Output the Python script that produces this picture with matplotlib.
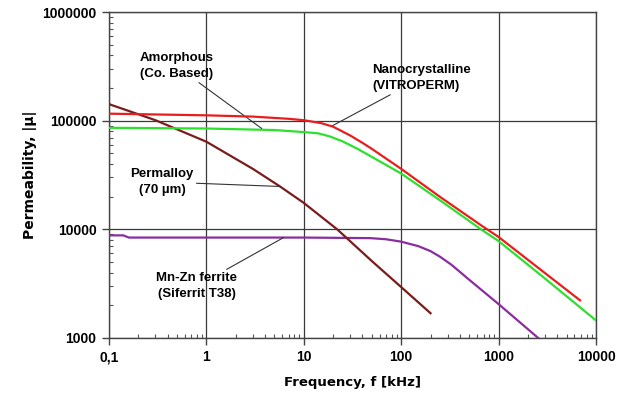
import numpy as np
import matplotlib
matplotlib.use("Agg")
import matplotlib.pyplot as plt
from matplotlib.ticker import FixedLocator, LogLocator, NullFormatter

plt.rcParams['font.family'] = ['Liberation Sans', 'DejaVu Sans']
plt.rcParams['font.weight'] = 'bold'

# frequency in kHz, permeability
nano_f = [0.1, 1, 3, 7, 10, 15, 20, 30, 40, 50, 100, 250, 670, 1000, 3000,
          6860]
nano_mu = [116000, 112000, 109000, 104000, 101000, 95000, 88000, 73000, 62500,
           55000, 36000, 19900, 10800, 8500, 3950, 2220]

amor_f = [0.1, 1, 5, 10, 14, 18.6, 25, 35, 50, 100, 250, 670, 1000, 3000,
          10000]
amor_mu = [86000, 84700, 82000, 78500, 76500, 71500, 64500, 55500, 46400,
           32600, 18500, 9900, 7800, 3520, 1450]

perm_f = [0.1, 0.3, 1, 3, 5.7, 10, 22, 50, 100, 200]
perm_mu = [142000, 101000, 64000, 36000, 24800, 17500, 10000, 5100, 2940,
           1690]

ferr_f = [0.1, 0.14, 0.16, 1, 10, 48, 70, 100, 150, 200, 250, 330, 500, 1000,
          2550]
ferr_mu = [8800, 8800, 8400, 8400, 8400, 8300, 8100, 7700, 7000, 6300, 5600,
           4700, 3430, 2050, 1000]

x_ticks = [0.1, 1, 10, 100, 1000, 10000]
x_labels = ['0,1', '1', '10', '100', '1000', '10000']
y_ticks = [1000, 10000, 100000, 1000000]
y_labels = ['1000', '10000', '100000', '1000000']


def main():
    fig = plt.figure(figsize=(6.25, 3.98), dpi=100)
    ax = fig.add_axes([0.1744, 0.1508, 0.7792, 0.819])

    ax.plot(ferr_f, ferr_mu, color='#8a2d9e', lw=1.6, zorder=3)
    ax.plot(perm_f, perm_mu, color='#7a1c1c', lw=1.6, zorder=3)
    ax.plot(amor_f, amor_mu, color='#2ee02e', lw=1.6, zorder=3)
    ax.plot(nano_f, nano_mu, color='#e81e1e', lw=1.6, zorder=4)

    ax.set_xscale('log')
    ax.set_yscale('log')
    ax.set_xlim(0.1, 10000)
    ax.set_ylim(1000, 1000000)

    ax.xaxis.set_major_locator(FixedLocator(x_ticks))
    ax.set_xticklabels(x_labels)
    ax.yaxis.set_major_locator(FixedLocator(y_ticks))
    ax.set_yticklabels(y_labels)
    ax.xaxis.set_minor_locator(LogLocator(base=10, subs=np.arange(2, 10)))
    ax.yaxis.set_minor_locator(LogLocator(base=10, subs=np.arange(2, 10)))
    ax.xaxis.set_minor_formatter(NullFormatter())
    ax.yaxis.set_minor_formatter(NullFormatter())

    ax.tick_params(which='major', direction='out', length=5, width=1,
                   color='#444444', labelsize=10, pad=4)
    ax.tick_params(which='minor', direction='in', length=3, width=0.8,
                   color='#555555')
    for lab in ax.get_xticklabels() + ax.get_yticklabels():
        lab.set_fontweight('bold')

    ax.grid(True, which='major', color='#3a3a3a', lw=0.9)
    for sp in ax.spines.values():
        sp.set_color('#444444')
        sp.set_linewidth(1.0)

    ax.set_xlabel('Frequency, f [kHz]', fontsize=9.5, fontweight='bold',
                  family='DejaVu Sans', labelpad=8)
    ax.set_ylabel('Permeability, |µ|', fontsize=10, fontweight='bold',
                  family='DejaVu Sans', labelpad=4)

    lead = dict(arrowstyle='-', color='#333333', lw=0.8, shrinkA=0, shrinkB=0)
    txt = dict(fontsize=9.5, fontweight='bold', va='center', linespacing=1.4)
    ax.annotate('Amorphous\n(Co. Based)', xy=(3.7, 84700),
                xytext=(0.49, 318000), ha='center', arrowprops=lead, **txt)
    ax.annotate('Nanocrystalline\n(VITROPERM)', xy=(19.3, 89000),
                xytext=(50, 246000), ha='left', arrowprops=lead, **txt)
    ax.annotate('Permalloy\n(70 µm)', xy=(5.7, 24800),
                xytext=(0.35, 27300), ha='center', arrowprops=lead, **txt)
    ax.annotate('Mn-Zn ferrite\n(Siferrit T38)', xy=(6.2, 8400),
                xytext=(0.80, 3010), ha='center', arrowprops=lead, **txt)

    fig.savefig('out.png', dpi=100)


if __name__ == "__main__":
    main()
